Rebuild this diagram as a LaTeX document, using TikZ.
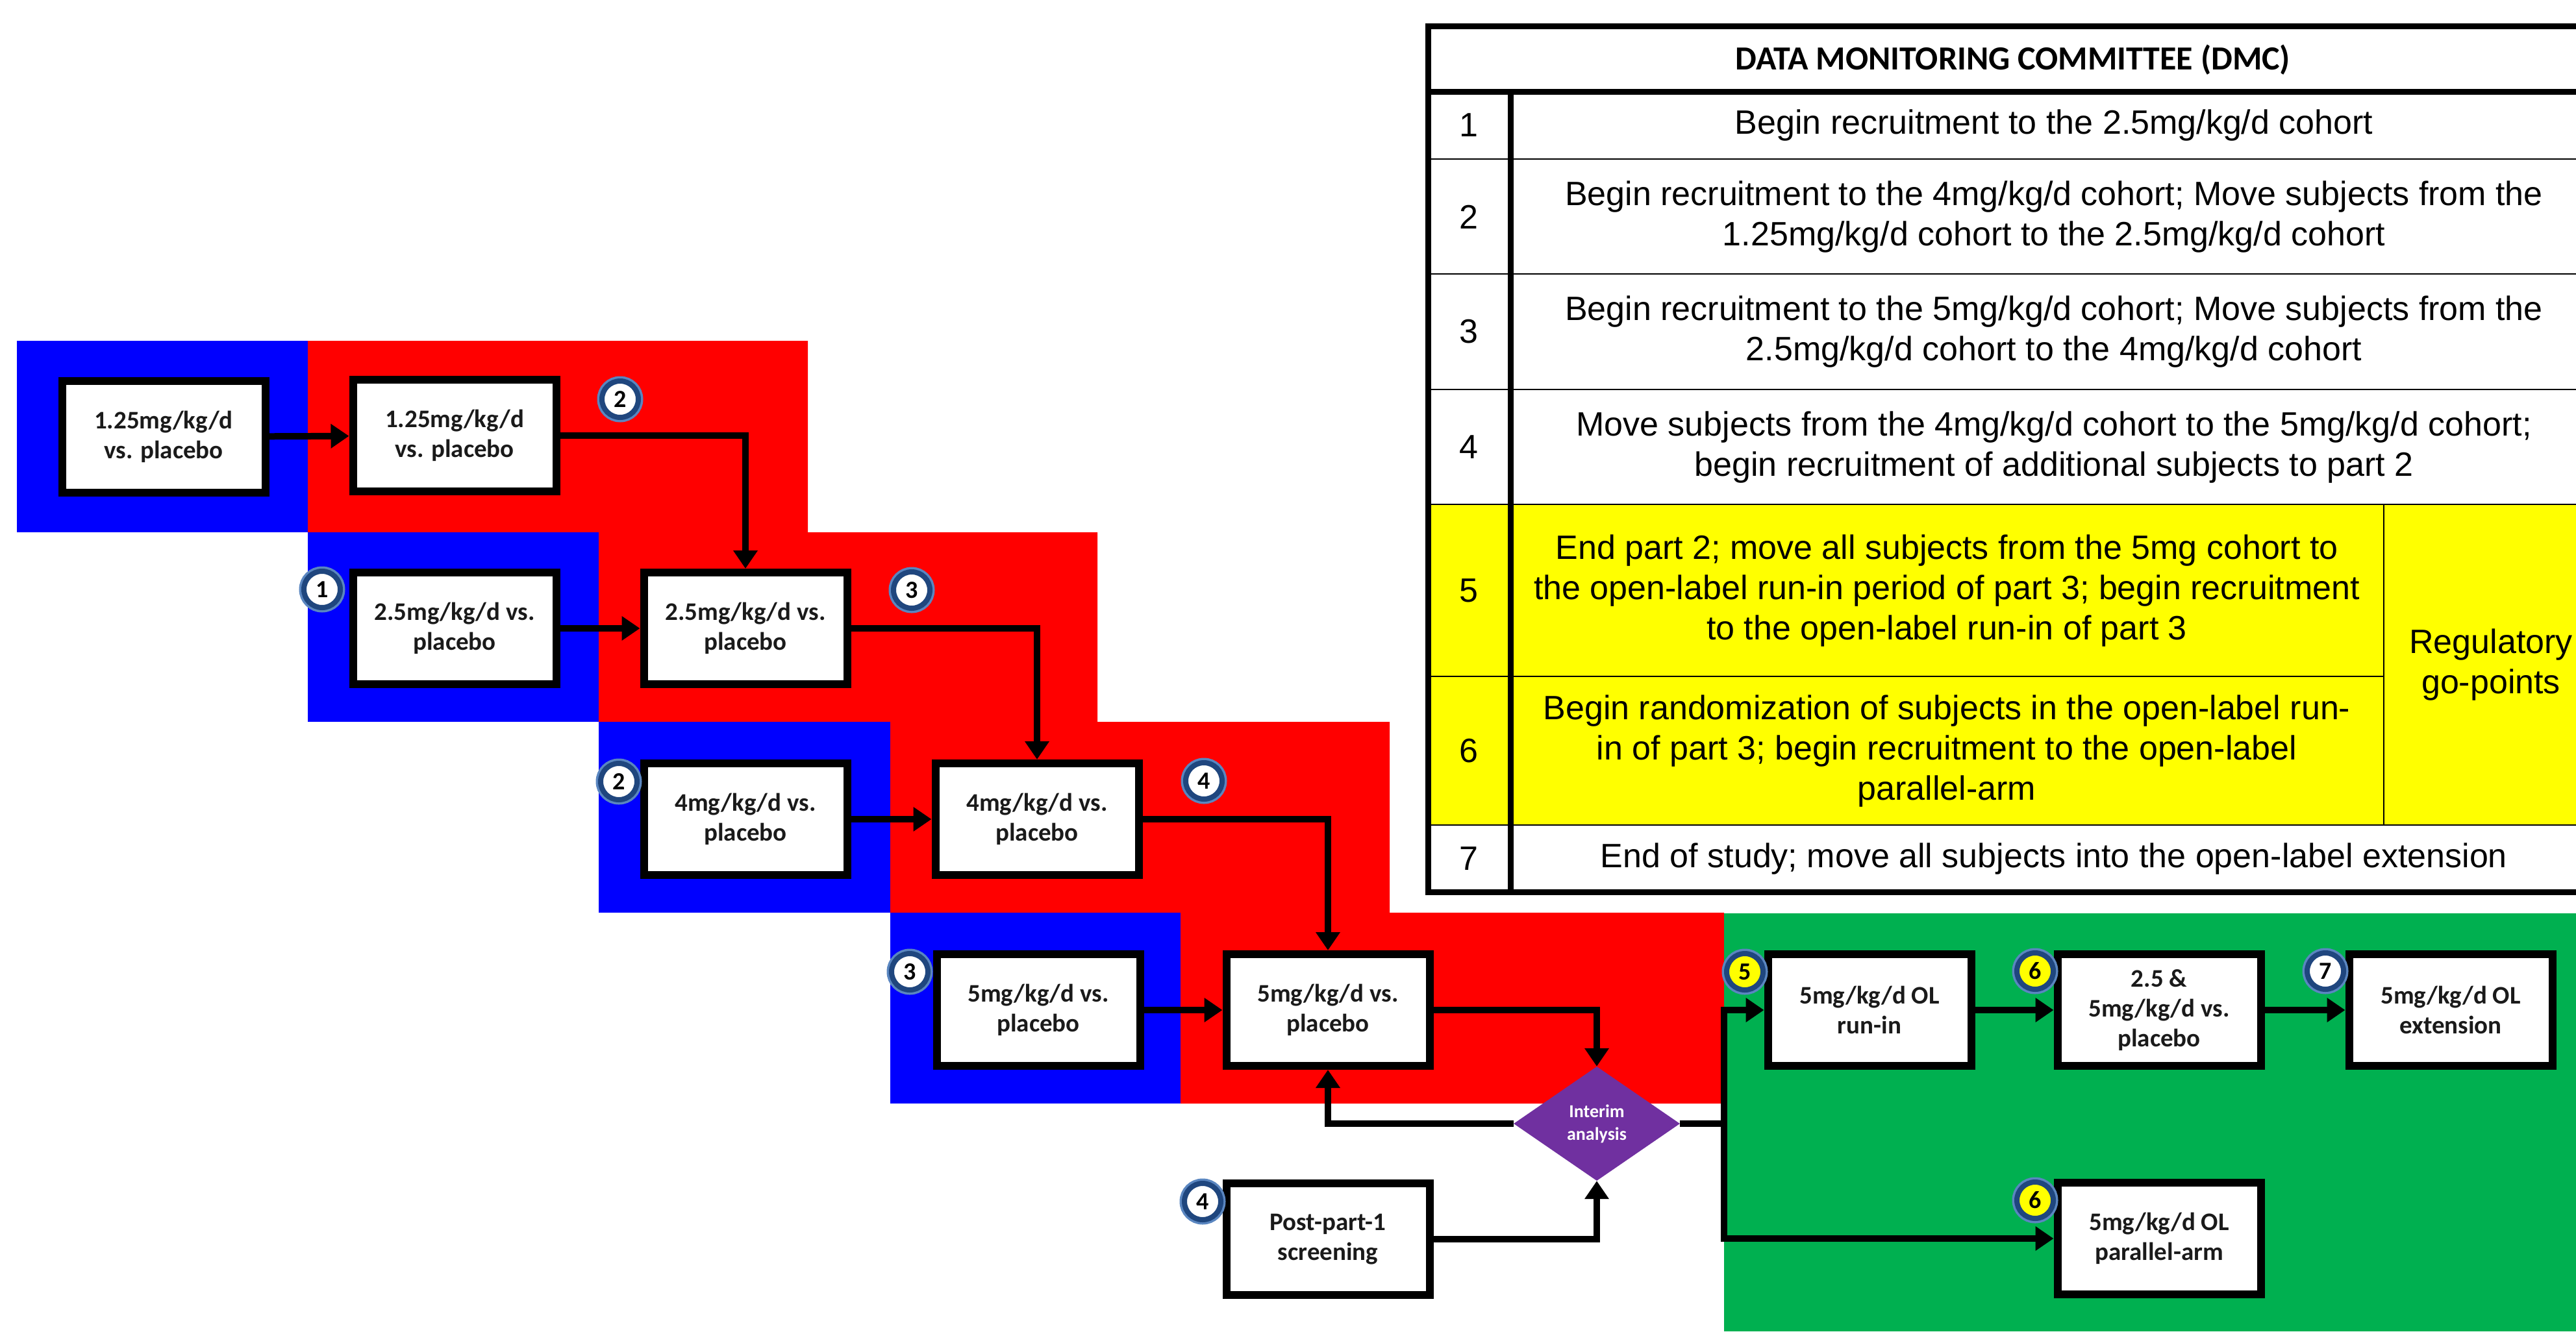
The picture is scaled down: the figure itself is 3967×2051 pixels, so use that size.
\documentclass[tikz,border=0pt]{standalone}
\usepackage{fontspec}
\setmainfont{Liberation Sans}
\newfontfamily\boxfnt{Carlito}
\usetikzlibrary{shapes.geometric,arrows.meta}
\definecolor{cblue}{HTML}{0000FF}
\definecolor{cred}{HTML}{FF0000}
\definecolor{cgreen}{HTML}{00B050}
\definecolor{cyel}{HTML}{FFFF00}
\definecolor{cpurp}{HTML}{7030A0}
\definecolor{cnavy}{HTML}{1F467E}
\definecolor{chalo}{HTML}{5A86C0}
\definecolor{ctext}{HTML}{1A1A1A}
\pgfdeclarelayer{back}
\pgfdeclarelayer{mid}
\pgfsetlayers{back,mid,main}
\tikzset{
  stagebox/.style={draw=black, line width=12pt, fill=white, minimum width=313pt, minimum height=172pt,
    inner sep=0pt, align=center, text=ctext, font=\boxfnt\bfseries\fontsize{39}{46}\selectfont},
  badge/.style={circle, draw=cnavy, line width=8pt, fill=white, minimum size=56pt, inner sep=0pt,
    preaction={draw=chalo, line width=15pt},
    font=\boxfnt\bfseries\fontsize{38}{38}\selectfont},
  ybadge/.style={badge, fill=cyel},
  decision/.style={diamond, fill=cpurp, minimum width=256pt, minimum height=176pt, inner sep=0pt,
    align=center, text=white, font=\boxfnt\bfseries\fontsize{28}{35}\selectfont},
  conn/.style={line width=10pt, draw=black},
  arr/.style={conn, -{Triangle[length=28pt,width=36pt]}},
  tabtxt/.style={align=center, inner sep=0pt, font=\fontsize{52}{62}\selectfont},
  tabhead/.style={align=center, inner sep=0pt, font=\boxfnt\bfseries\fontsize{52}{62}\selectfont},
  thick line/.style={line width=9pt},
  thin line/.style={line width=2.5pt},
}
\begin{document}
\begin{tikzpicture}[x=1pt,y=-1pt]
\useasboundingbox (0,0) rectangle (3967,2051);

% ---------- backgrounds ----------
\begin{pgfonlayer}{back}
\fill[white] (0,0) rectangle (3967,2051);
\fill[cred] (474,525) -- (1244,525) -- (1244,820) -- (1690,820) -- (1690,1112) -- (2140,1112)
  -- (2140,1406) -- (2655,1406) -- (2655,1700) -- (1818,1700) -- (1818,1406) -- (1371,1406)
  -- (1371,1112) -- (922,1112) -- (922,820) -- (474,820) -- cycle;
\fill[cblue] (26,525) rectangle (474,820);
\fill[cblue] (474,820) rectangle (922,1112);
\fill[cblue] (922,1112) rectangle (1371,1406);
\fill[cblue] (1371,1406) rectangle (1818,1700);
\fill[cgreen] (2655,1407) rectangle (3967,2051);

% ---------- table ----------
\fill[white] (2199,40) rectangle (4000,1374);
\fill[cyel] (2199,777) rectangle (4000,1271);
\draw[thin line] (2199,245) -- (4000,245);
\draw[thin line] (2199,422) -- (4000,422);
\draw[thin line] (2199,600) -- (4000,600);
\draw[thin line] (2199,777) -- (4000,777);
\draw[thin line] (2199,1042) -- (3671,1042);
\draw[thin line] (2199,1271) -- (4000,1271);
\draw[thin line] (3671,777) -- (3671,1271);
\draw[thick line] (2326,141) -- (2326,1374);
\draw[thick line] (2199,141) -- (4000,141);
\draw[thick line] (2199,40) rectangle (4000,1374);
\end{pgfonlayer}

\node[tabhead] (th) at (3100,92) {DATA MONITORING COMMITTEE (DMC)};
\node[tabtxt] (n1) at (2262,193) {1};
\node[tabtxt] (n2) at (2262,334) {2};
\node[tabtxt] (n3) at (2262,511) {3};
\node[tabtxt] (n4) at (2262,689) {4};
\node[tabtxt] (n5) at (2262,910) {5};
\node[tabtxt] (n6) at (2262,1157) {6};
\node[tabtxt] (n7) at (2262,1323) {7};
\node[tabtxt] (t1) at (3163,193) {Begin recruitment to the 2.5mg/kg/d cohort};
\node[tabtxt] (t2) at (3163,334) {Begin recruitment to the 4mg/kg/d cohort; Move subjects from the\\1.25mg/kg/d cohort to the 2.5mg/kg/d cohort};
\node[tabtxt] (t3) at (3163,511) {Begin recruitment to the 5mg/kg/d cohort; Move subjects from the\\2.5mg/kg/d cohort to the 4mg/kg/d cohort};
\node[tabtxt] (t4) at (3163,689) {Move subjects from the 4mg/kg/d cohort to the 5mg/kg/d cohort;\\begin recruitment of additional subjects to part 2};
\node[tabtxt] (t5) at (2998,910) {End part 2; move all subjects from the 5mg cohort to\\the open-label run-in period of part 3; begin recruitment\\to the open-label run-in of part 3};
\node[tabtxt] (t6) at (2998,1157) {Begin randomization of subjects in the open-label run-\\in of part 3; begin recruitment to the open-label\\parallel-arm};
\node[tabtxt] (t7) at (3163,1323) {End of study; move all subjects into the open-label extension};
\node[tabtxt] (reg) at (3836,1024) {Regulatory\\go-points};

% ---------- stages ----------
\node[stagebox] (A) at (252,673) {1.25mg/kg/d\\vs. placebo};
\node[stagebox] (B) at (700,671) {1.25mg/kg/d\\vs. placebo};
\node[stagebox] (D) at (700,968) {2.5mg/kg/d vs.\\placebo};
\node[stagebox] (C) at (1148,968) {2.5mg/kg/d vs.\\placebo};
\node[stagebox] (E) at (1148,1262) {4mg/kg/d vs.\\placebo};
\node[stagebox] (F) at (1597,1262) {4mg/kg/d vs.\\placebo};
\node[stagebox] (G) at (1599,1556) {5mg/kg/d vs.\\placebo};
\node[stagebox] (H) at (2045,1556) {5mg/kg/d vs.\\placebo};
\node[stagebox] (I) at (2045,1909) {Post-part-1\\screening};
\node[decision] (dia) at (2459,1731) {Interim\\analysis};
\node[stagebox] (J) at (2879,1556) {5mg/kg/d OL\\run-in};
\node[stagebox] (K) at (3325,1556) {2.5 \&\\5mg/kg/d vs.\\placebo};
\node[stagebox] (L) at (3774,1556) {5mg/kg/d OL\\extension};
\node[stagebox] (M) at (3325,1908) {5mg/kg/d OL\\parallel-arm};

\coordinate (tj) at (2655,1556);
\coordinate (tmid) at (2655,1731);
\coordinate (tm) at (2655,1908);

% ---------- connectors ----------
\begin{pgfonlayer}{mid}
\draw[arr] (A) -- (B);
\draw[arr] (B.east) -| (C.north);
\draw[arr] (D) -- (C);
\draw[arr] (C.east) -| (F.north);
\draw[arr] (E) -- (F);
\draw[arr] (F.east) -| (H.north);
\draw[arr] (G) -- (H);
\draw[arr] (H.east) -| (dia.north);
\draw[arr] (dia.west) -| (H.south);
\draw[arr] (I.east) -| (dia.south);
\draw[conn] (dia.east) -- (tmid);
\draw[conn, {Triangle[length=28pt,width=36pt]}-{Triangle[length=28pt,width=36pt]}] (J.west) -- (tj) -- (tm) -- (M.west);
\draw[arr] (J) -- (K);
\draw[arr] (K) -- (L);
\end{pgfonlayer}

% ---------- badges ----------
\node[badge] (b1) at (496,908) {1};
\node[badge] (b2a) at (955,615) {2};
\node[badge] (b2b) at (953,1204) {2};
\node[badge] (b3a) at (1404,909) {3};
\node[badge] (b3b) at (1401,1497) {3};
\node[badge] (b4a) at (1854,1203) {4};
\node[badge] (b4b) at (1852,1851) {4};
\node[ybadge] (b5) at (2687,1497) {5};
\node[ybadge] (b6a) at (3134,1496) {6};
\node[badge] (b7) at (3581,1496) {7};
\node[ybadge] (b6b) at (3134,1849) {6};
\end{tikzpicture}
\end{document}
